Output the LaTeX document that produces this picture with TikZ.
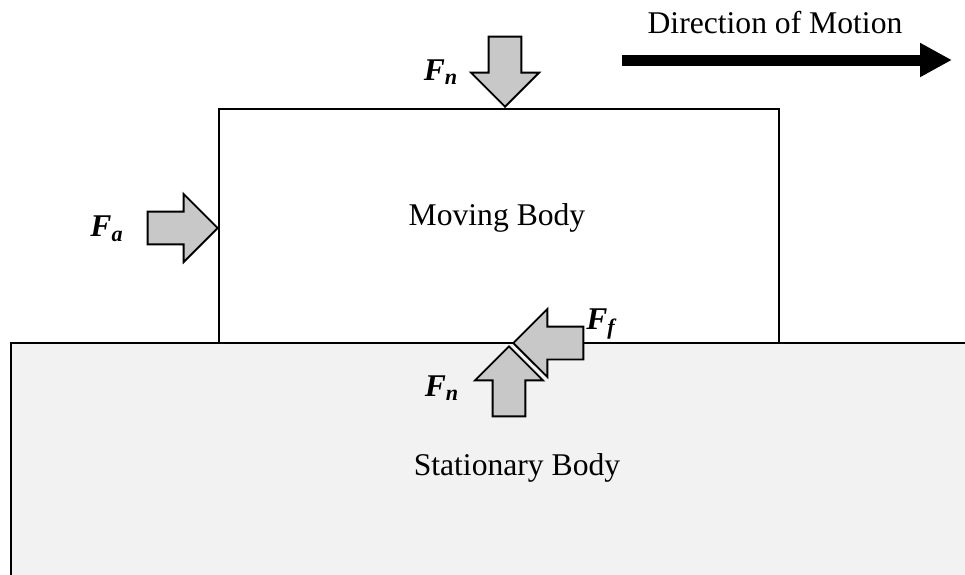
\documentclass[tikz,border=0pt]{standalone}
\usepackage{fontspec}
\setmainfont{Liberation Serif}
\usepackage{tikz}
\usetikzlibrary{shapes.arrows, arrows.meta, positioning}
\definecolor{forcegray}{HTML}{C8C8C8}
\definecolor{groundgray}{HTML}{F2F2F2}
\tikzstyle{body} = [draw=black, line width=1.4pt]
\tikzstyle{force} = [single arrow, draw=black, fill=forcegray, line width=1.1pt, minimum height=1.4cm, single arrow head extend=0.35cm, single arrow tip angle=90, inner sep=0.31cm]
\tikzstyle{forcelabel} = [font=\fontsize{18}{21}\selectfont\bfseries\itshape]
\tikzstyle{bodylabel} = [font=\fontsize{18}{21}\selectfont]
\tikzstyle{motion} = [line width=0.22cm, -{Triangle[length=0.64cm, width=0.64cm]}]

\begin{document}
\begin{tikzpicture}[x=0.02cm, y=-0.02cm]
    \useasboundingbox (0,0) rectangle (965,575);

    % bodies
    \fill[groundgray] (11,343) rectangle (965,575);
    \draw[body] (11,575) -- (11,343) -- (965,343);
    \draw[body] (219,109) rectangle (779,343);
    \node[bodylabel] (moving) at (497,218) {Moving Body};
    \node[bodylabel] (stationary) at (517,468) {Stationary Body};

    % direction of motion
    \node[bodylabel] (direction) at (775,23) {Direction of Motion};
    \coordinate (motionstart) at (622,60);
    \coordinate (motionend) at (952,60);
    \draw[motion] (motionstart) -- (motionend);

    % forces
    \node[force, shape border rotate=270, anchor=tip] (fntop) at (505,108) {};
    \node[force, anchor=tip] (fa) at (219,228) {};
    \node[force, shape border rotate=180, anchor=tip] (ff) at (512,343) {};
    \node[force, shape border rotate=90, anchor=tip] (fnbottom) at (509,345) {};

    \node[forcelabel] (fntoplabel) at (441,72) {F\textsubscript{n}};
    \node[forcelabel] (falabel) at (107,229) {F\textsubscript{a}};
    \node[forcelabel] (fflabel) at (601,324) {F\textsubscript{f}};
    \node[forcelabel] (fnbottomlabel) at (442,388) {F\textsubscript{n}};
\end{tikzpicture}
\end{document}
